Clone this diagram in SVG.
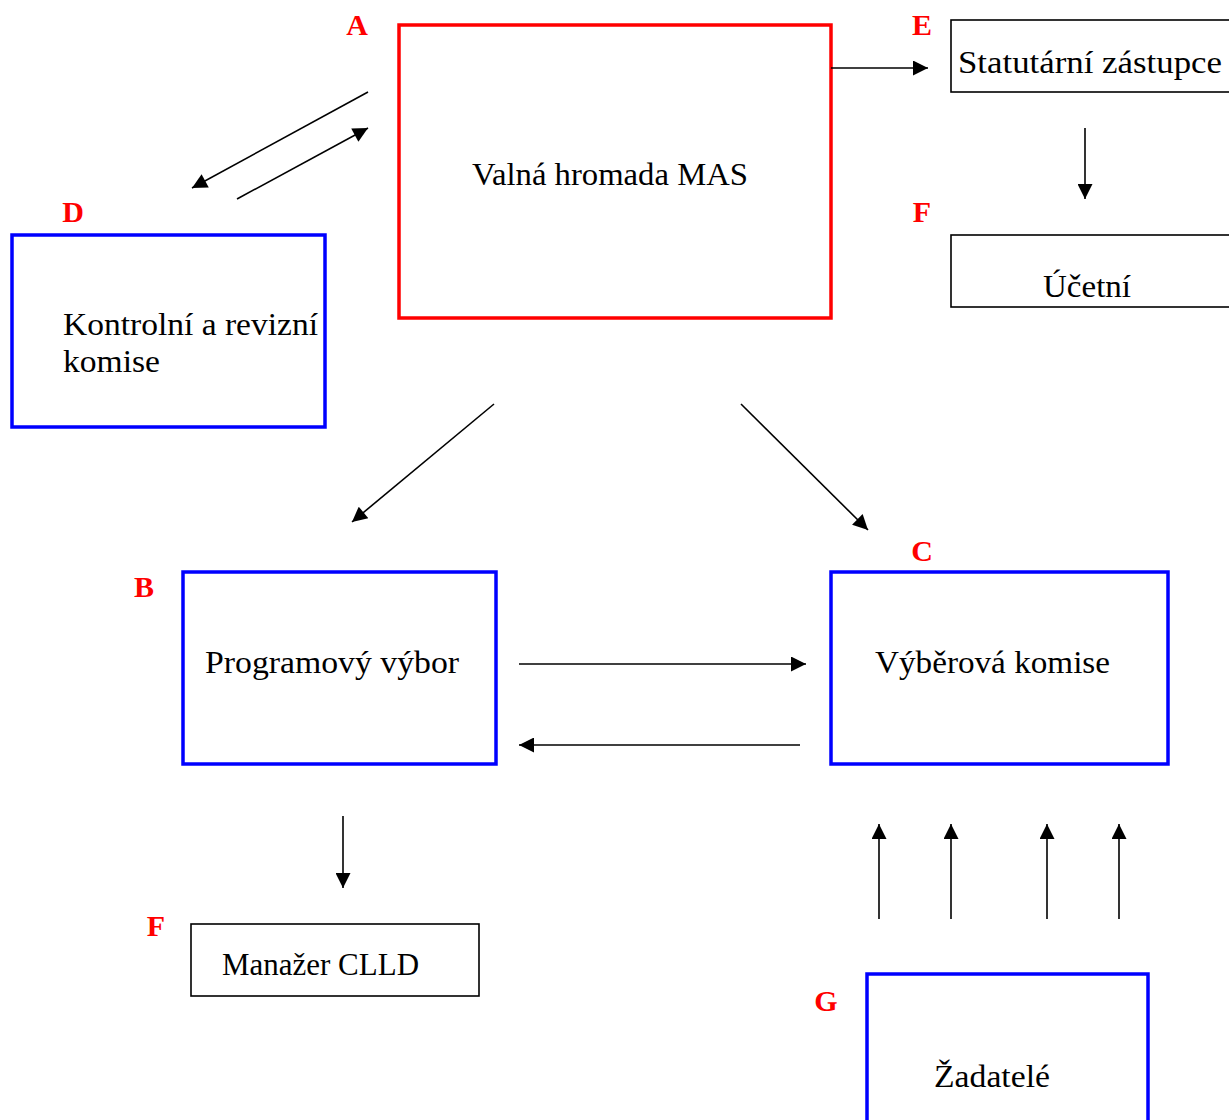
<svg xmlns="http://www.w3.org/2000/svg" width="1229" height="1120" viewBox="0 0 1229 1120">
<defs>
<marker id="ah2" viewBox="0 0 10 10" refX="10" refY="5" markerWidth="17" markerHeight="15" markerUnits="userSpaceOnUse" orient="auto"><path d="M0,0 L10,5 L0,10 z" fill="#000"/></marker>
<style>
.t{font-family:"Liberation Serif","DejaVu Serif",serif;font-size:32px;fill:#000}
.lb{font-family:"Liberation Serif","DejaVu Serif",serif;font-size:30px;font-weight:bold;fill:#ff0000}
.red{fill:#fff;stroke:#ff0000;stroke-width:3.5}
.blue{fill:#fff;stroke:#0000ff;stroke-width:3.5}
.blk{fill:#fff;stroke:#000;stroke-width:1.6}
.c line{stroke:#000;stroke-width:1.6;marker-end:url(#ah2)}
</style>
</defs>
<rect width="1229" height="1120" fill="#fff"/>
<g id="nodeA">
<rect class="red" x="399" y="25" width="432" height="293"/>
<text class="lb" x="357" y="35" text-anchor="middle">A</text>
<text class="t" x="472" y="185" textLength="276" lengthAdjust="spacingAndGlyphs">Valná hromada MAS</text>
</g>
<g id="nodeE">
<rect class="blk" x="951" y="20" width="290" height="72"/>
<text class="lb" x="922" y="35" text-anchor="middle">E</text>
<text class="t" x="958" y="73" textLength="264" lengthAdjust="spacingAndGlyphs">Statutární zástupce</text>
</g>
<g id="nodeF1">
<rect class="blk" x="951" y="235" width="290" height="72"/>
<text class="lb" x="922" y="222" text-anchor="middle">F</text>
<text class="t" x="1043" y="297" textLength="88" lengthAdjust="spacingAndGlyphs">Účetní</text>
</g>
<g id="nodeD">
<rect class="blue" x="12" y="235" width="313" height="192"/>
<text class="lb" x="73" y="222" text-anchor="middle">D</text>
<text class="t" x="63" y="335" textLength="255" lengthAdjust="spacingAndGlyphs">Kontrolní a revizní</text>
<text class="t" x="63" y="372" textLength="97" lengthAdjust="spacingAndGlyphs">komise</text>
</g>
<g id="nodeB">
<rect class="blue" x="183" y="572" width="313" height="192"/>
<text class="lb" x="144" y="597" text-anchor="middle">B</text>
<text class="t" x="205" y="673" textLength="254" lengthAdjust="spacingAndGlyphs">Programový výbor</text>
</g>
<g id="nodeC">
<rect class="blue" x="831" y="572" width="337" height="192"/>
<text class="lb" x="922" y="561" text-anchor="middle">C</text>
<text class="t" x="875" y="673" textLength="235" lengthAdjust="spacingAndGlyphs">Výběrová komise</text>
</g>
<g id="nodeF2">
<rect class="blk" x="191" y="924" width="288" height="72"/>
<text class="lb" x="156" y="936" text-anchor="middle">F</text>
<text class="t" x="222" y="975" textLength="197" lengthAdjust="spacingAndGlyphs">Manažer CLLD</text>
</g>
<g id="nodeG">
<rect class="blue" x="867" y="974" width="281" height="160"/>
<text class="lb" x="826" y="1011" text-anchor="middle">G</text>
<text class="t" x="934" y="1087" textLength="116" lengthAdjust="spacingAndGlyphs">Žadatelé</text>
</g>
<g id="connectors" class="c">
<line x1="831" y1="68" x2="928" y2="68"/>
<line x1="1085" y1="128" x2="1085" y2="199"/>
<line x1="368" y1="92" x2="192" y2="188"/>
<line x1="237" y1="199" x2="368" y2="128"/>
<line x1="494" y1="404" x2="352" y2="522"/>
<line x1="741" y1="404" x2="868" y2="530"/>
<line x1="519" y1="664" x2="806" y2="664"/>
<line x1="800" y1="745" x2="519" y2="745"/>
<line x1="343" y1="816" x2="343" y2="888"/>
<line x1="879" y1="919" x2="879" y2="824"/>
<line x1="951" y1="919" x2="951" y2="824"/>
<line x1="1047" y1="919" x2="1047" y2="824"/>
<line x1="1119" y1="919" x2="1119" y2="824"/>
</g>
</svg>
